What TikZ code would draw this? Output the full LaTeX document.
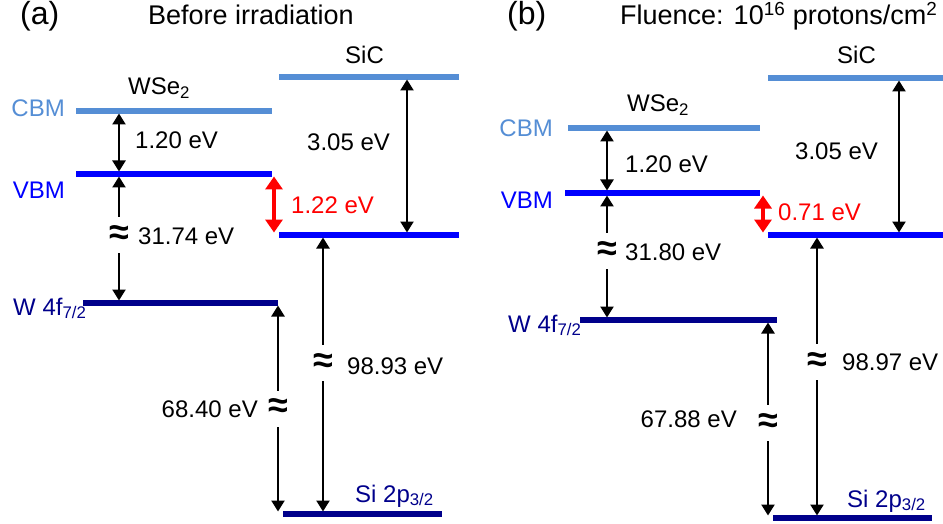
\documentclass[tikz,border=0pt]{standalone}
\usepackage{fontspec}
\setmainfont{Liberation Sans}
\usetikzlibrary{arrows.meta}
\definecolor{cbmblue}{RGB}{85,142,213}
\definecolor{vbmblue}{RGB}{0,0,255}
\definecolor{corenavy}{RGB}{0,0,139}
\definecolor{offred}{RGB}{255,0,0}

\begin{document}
\begin{tikzpicture}[
    x=1pt, y=-1pt,
    every node/.style={font=\fontsize{24}{28}\selectfont, inner sep=0pt},
    title/.style={font=\fontsize{27}{31}\selectfont},
    panel/.style={font=\fontsize{32}{36}\selectfont},
    cbm/.style={line width=5.5pt, draw=cbmblue},
    vbm/.style={line width=5.5pt, draw=vbmblue},
    core/.style={line width=5.5pt, draw=corenavy},
    gap/.style={{Triangle[width=13pt,length=11pt]}-{Triangle[width=13pt,length=11pt]}, line width=2.4pt, shorten <=2.5pt, shorten >=2.5pt},
    offset/.style={{Triangle[width=17pt,length=13pt]}-{Triangle[width=17pt,length=13pt]}, line width=4pt, draw=offred, shorten <=2.5pt, shorten >=2.5pt},
    brk/.style={fill=white, minimum height=36pt, inner xsep=1pt, font=\fontsize{36}{38}\selectfont\bfseries}
]
\useasboundingbox (0,0) rectangle (943,524);

% ---------- (a) before irradiation ----------
\node[panel, anchor=base west] (pa) at (20,25) {(a)};
\node[title, anchor=base west] (ta) at (148,25) {Before irradiation};
\node[anchor=base west] (wsea) at (128,95) {WSe\textsubscript{2}};
\node[anchor=base west] (sica) at (345,64) {SiC};

\draw[cbm] (76,111) coordinate (wcbmaL) -- (272,111) coordinate (wcbmaR);
\draw[vbm] (76,174) coordinate (wvbmaL) -- (272,174) coordinate (wvbmaR);
\draw[core] (83,303) coordinate (w4faL) -- (278,303) coordinate (w4faR);
\draw[cbm] (279,77) coordinate (scbmaL) -- (459,77) coordinate (scbmaR);
\draw[vbm] (279,235) coordinate (svbmaL) -- (459,235) coordinate (svbmaR);
\draw[core] (283,514) coordinate (si2paL) -- (442,514) coordinate (si2paR);

\node[anchor=base east, text=cbmblue] (cbma) at (65,117) {CBM};
\node[anchor=base east, text=vbmblue] (vbma) at (65,199) {VBM};
\node[anchor=base west, text=corenavy] (w4fa) at (13,315) {W 4f\textsubscript{7/2}};
\node[anchor=base west, text=corenavy] (si2pa) at (355,502) {Si 2p\textsubscript{3/2}};

\coordinate (a1t) at (119,111);
\coordinate (a1b) at (119,174);
\coordinate (a2b) at (119,303);
\coordinate (a3t) at (274,174);
\coordinate (a3b) at (274,235);
\coordinate (a4t) at (407,77);
\coordinate (a4b) at (407,235);
\coordinate (a5t) at (278,303);
\coordinate (a5b) at (278,514);
\coordinate (a6t) at (323,235);
\coordinate (a6b) at (323,514);

\draw[gap] (a1t) -- (a1b);
\draw[gap] (a1b) -- node[brk, pos=0.47] (a2x) {≈} (a2b);
\draw[offset] (a3t) -- (a3b);
\draw[gap] (a4t) -- (a4b);
\draw[gap] (a5t) -- node[brk, pos=0.5] (a5x) {≈} (a5b);
\draw[gap] (a6t) -- node[brk, pos=0.46] (a6x) {≈} (a6b);

\node[anchor=base west] (ea1) at (135,149) {1.20 eV};
\node[anchor=base west] (ea2) at (138,244) {31.74 eV};
\node[anchor=base west, text=offred] (ea3) at (291,213) {1.22 eV};
\node[anchor=base west] (ea4) at (307,151) {3.05 eV};
\node[anchor=base east] (ea5) at (258,417) {68.40 eV};
\node[anchor=base west] (ea6) at (347,374) {98.93 eV};

% ---------- (b) 1e16 protons/cm2 ----------
\node[panel, anchor=base west] (pb) at (507,25) {(b)};
\node[title, anchor=base west] (tb) at (620,25) {Fluence: 10\textsuperscript{16} protons/cm\textsuperscript{2}};
\node[anchor=base west] (wseb) at (627,112) {WSe\textsubscript{2}};
\node[anchor=base west] (sicb) at (837,64) {SiC};

\draw[cbm] (568,128) coordinate (wcbmbL) -- (760,128) coordinate (wcbmbR);
\draw[vbm] (565,193) coordinate (wvbmbL) -- (760,193) coordinate (wvbmbR);
\draw[core] (580,320) coordinate (w4fbL) -- (777,320) coordinate (w4fbR);
\draw[cbm] (768,78) coordinate (scbmbL) -- (943,78) coordinate (scbmbR);
\draw[vbm] (768,235) coordinate (svbmbL) -- (943,235) coordinate (svbmbR);
\draw[core] (773,518) coordinate (si2pbL) -- (932,518) coordinate (si2pbR);

\node[anchor=base east, text=cbmblue] (cbmb) at (553,137) {CBM};
\node[anchor=base east, text=vbmblue] (vbmb) at (553,208) {VBM};
\node[anchor=base west, text=corenavy] (w4fb) at (508,332) {W 4f\textsubscript{7/2}};
\node[anchor=base west, text=corenavy] (si2pb) at (847,507) {Si 2p\textsubscript{3/2}};

\coordinate (b1t) at (607,128);
\coordinate (b1b) at (607,193);
\coordinate (b2b) at (607,320);
\coordinate (b3t) at (763,193);
\coordinate (b3b) at (763,235);
\coordinate (b4t) at (899,78);
\coordinate (b4b) at (899,235);
\coordinate (b5t) at (768,320);
\coordinate (b5b) at (768,518);
\coordinate (b6t) at (817,235);
\coordinate (b6b) at (817,518);

\draw[gap] (b1t) -- (b1b);
\draw[gap] (b1b) -- node[brk, pos=0.46] (b2x) {≈} (b2b);
\draw[offset] (b3t) -- (b3b);
\draw[gap] (b4t) -- (b4b);
\draw[gap] (b5t) -- node[brk, pos=0.52] (b5x) {≈} (b5b);
\draw[gap] (b6t) -- node[brk, pos=0.45] (b6x) {≈} (b6b);

\node[anchor=base west] (eb1) at (625,172) {1.20 eV};
\node[anchor=base west] (eb2) at (625,260) {31.80 eV};
\node[anchor=base west, text=offred] (eb3) at (778,221) {0.71 eV};
\node[anchor=base west] (eb4) at (795,160) {3.05 eV};
\node[anchor=base east] (eb5) at (737,427) {67.88 eV};
\node[anchor=base west] (eb6) at (842,370) {98.97 eV};
\end{tikzpicture}
\end{document}
